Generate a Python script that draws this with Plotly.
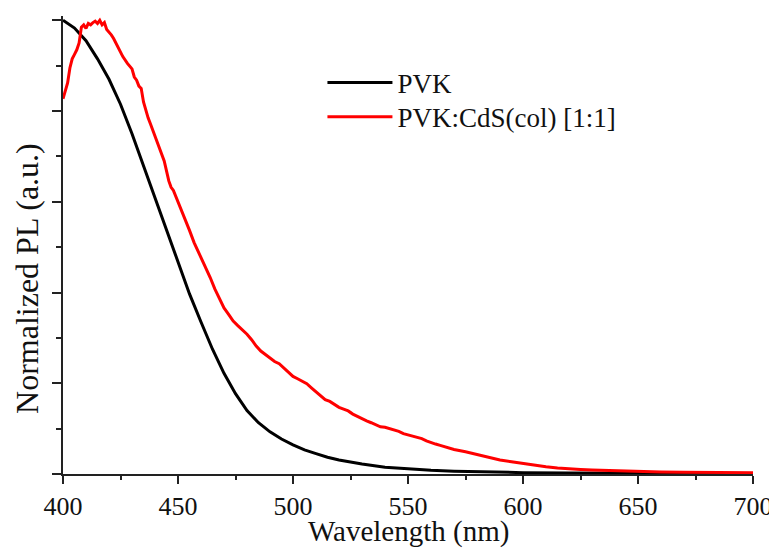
import plotly.graph_objects as go

# PVK (black) normalized PL
pvk_wl = [400, 405, 410, 415, 420, 425, 430, 435, 440, 445, 450, 455, 460, 465, 470,
          475, 480, 485, 490, 495, 500, 505, 510, 515, 520, 525, 530, 540, 550, 560,
          570, 580, 590, 600, 620, 650, 700]
pvk_pl = [1.0, 0.983, 0.955, 0.915, 0.870, 0.815, 0.750, 0.680, 0.606, 0.537, 0.467,
          0.397, 0.335, 0.275, 0.222, 0.177, 0.140, 0.113, 0.093, 0.077, 0.064, 0.053,
          0.045, 0.037, 0.031, 0.026, 0.022, 0.015, 0.011, 0.008, 0.0062, 0.0048,
          0.004, 0.003, 0.0022, 0.0015, 0.001]

# PVK:CdS(col) [1:1] (red) normalized PL
mix_wl = [400, 401, 402, 403, 404, 405, 406, 407, 408, 409, 410, 411, 412, 413, 414,
          415, 416, 417, 418, 419, 420, 421, 422, 424, 426, 428, 430, 431, 432, 433,
          434, 435, 436, 437, 438, 440, 442, 443, 444, 446, 447, 448, 450, 451, 453,
          455, 457, 459, 460, 462, 464, 466, 468, 470, 472, 474, 476, 478, 480, 482,
          484, 486, 488, 490, 492, 494, 496, 498, 500, 502, 504, 506, 508, 510, 512,
          514, 516, 518, 520, 522, 524, 526, 528, 530, 532, 534, 536, 538, 540, 542,
          544, 546, 548, 550, 552, 554, 556, 558, 560, 562, 564, 566, 568, 570, 575,
          580, 585, 590, 595, 600, 605, 610, 615, 620, 625, 630, 635, 640, 645, 650,
          660, 670, 680, 690, 700]
mix_pl = [0.827, 0.845, 0.862, 0.895, 0.915, 0.925, 0.935, 0.950, 0.985, 0.990, 0.982,
          0.993, 0.990, 0.995, 0.998, 0.993, 1.0, 0.990, 0.995, 0.980, 0.975, 0.968,
          0.960, 0.940, 0.920, 0.905, 0.893, 0.875, 0.868, 0.855, 0.850, 0.820, 0.800,
          0.785, 0.772, 0.745, 0.716, 0.700, 0.690, 0.646, 0.632, 0.625, 0.600, 0.590,
          0.563, 0.537, 0.510, 0.488, 0.478, 0.455, 0.433, 0.408, 0.385, 0.366, 0.352,
          0.337, 0.327, 0.318, 0.308, 0.296, 0.282, 0.271, 0.263, 0.254, 0.248, 0.243,
          0.233, 0.224, 0.215, 0.210, 0.204, 0.199, 0.190, 0.182, 0.172, 0.164, 0.160,
          0.154, 0.147, 0.143, 0.139, 0.132, 0.127, 0.121, 0.117, 0.113, 0.108, 0.104,
          0.103, 0.100, 0.097, 0.094, 0.089, 0.086, 0.083, 0.080, 0.078, 0.073, 0.069,
          0.066, 0.063, 0.060, 0.057, 0.054, 0.049, 0.043, 0.037, 0.031, 0.027, 0.023,
          0.020, 0.016, 0.013, 0.011, 0.010, 0.009, 0.008, 0.007, 0.006, 0.005, 0.0045,
          0.004, 0.0035, 0.003, 0.003]

x_ticks = [400, 450, 500, 550, 600, 650, 700]

FONT = "Liberation Serif"

fig = go.Figure()
fig.add_trace(go.Scatter(x=pvk_wl, y=pvk_pl, mode="lines", name="PVK",
                         line=dict(color="#000000", width=3), legend="legend"))
fig.add_trace(go.Scatter(x=mix_wl, y=mix_pl, mode="lines", name="PVK:CdS(col) [1:1]",
                         line=dict(color="#ff0000", width=3), legend="legend2"))

leg_common = dict(xanchor="left", yanchor="middle",
                  font=dict(family=FONT, size=27, color="#111111"),
                  bgcolor="rgba(0,0,0,0)", itemwidth=65)

# page body has an 8px margin, so the figure is sized/offset to compensate
fig.update_layout(
    width=769, height=541,
    margin=dict(l=55, r=24, t=8, b=75),
    paper_bgcolor="white", plot_bgcolor="white",
    font=dict(family=FONT, color="#111111"),
    showlegend=True,
    legend=dict(x=0.376, y=0.854, **leg_common),
    legend2=dict(x=0.376, y=0.779, **leg_common),
    xaxis=dict(range=[400, 700], tickvals=x_ticks, ticks="outside", ticklen=8,
               tickwidth=2, tickcolor="#222222", showline=True, linewidth=2,
               linecolor="#222222", showgrid=False, zeroline=False, automargin=False,
               tickfont=dict(family=FONT, size=26, color="#111111"),
               minor=dict(dtick=25, ticks="outside", ticklen=4, tickwidth=2,
                          tickcolor="#222222", showgrid=False)),
    yaxis=dict(range=[0, 1.0095], dtick=0.2, tick0=0, ticks="outside", ticklen=9,
               tickwidth=2, tickcolor="#222222", showline=True, linewidth=2,
               linecolor="#222222", showgrid=False, zeroline=False, automargin=False,
               showticklabels=False,
               minor=dict(dtick=0.1, ticks="outside", ticklen=5, tickwidth=2,
                          tickcolor="#222222", showgrid=False)),
    annotations=[
        dict(text="Normalized PL (a.u.)", textangle=-90, showarrow=False,
             xref="paper", yref="paper", x=-0.0522, y=0.428,
             xanchor="center", yanchor="middle",
             font=dict(family=FONT, size=32, color="#111111")),
        dict(text="Wavelength (nm)", showarrow=False,
             xref="paper", yref="paper", x=0.5, y=-0.1266,
             xanchor="center", yanchor="middle",
             font=dict(family=FONT, size=29, color="#111111")),
    ],
)

fig.write_html("out.html")
